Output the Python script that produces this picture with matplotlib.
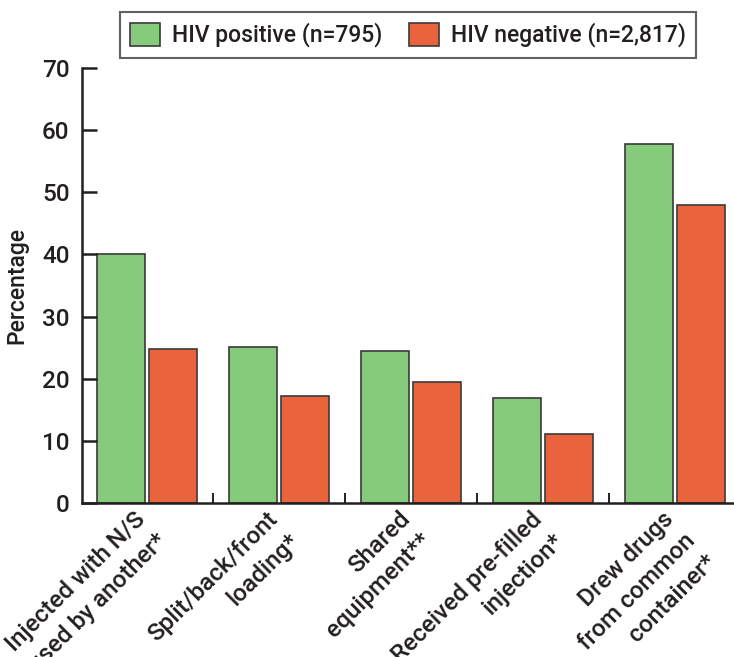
import matplotlib
matplotlib.use("Agg")
import matplotlib.pyplot as plt
import numpy as np

categories = ["Injected with N/S\nused by another*", "Split/back/front\nloading*",
              "Shared\nequipment**", "Received pre-filled\ninjection*",
              "Drew drugs\nfrom common\ncontainer*"]
hiv_pos = [40.0, 25.1, 24.4, 17.0, 57.7]
hiv_neg = [24.8, 17.3, 19.5, 11.2, 48.0]
series_labels = ["HIV positive (n=795)", "HIV negative (n=2,817)"]
yticks = [0, 10, 20, 30, 40, 50, 60, 70]

green = "#86CA7B"
orange = "#E9643D"
edge = "#3a3a3a"
txt = "#231f20"

plt.rcParams['font.family'] = ['Roboto', 'DejaVu Sans']
plt.rcParams['font.weight'] = 'medium'

fig = plt.figure(figsize=(7.34, 6.57), dpi=100)
ax = fig.add_axes([82/734, 1 - 503.3/657, 1 - 82/734, (503.3 - 67.7)/657])

x = np.arange(len(categories))
w = 48/132
off = 26/132
b1 = ax.bar(x - off, hiv_pos, w, color=green, edgecolor=edge, linewidth=1.2, label=series_labels[0])
b2 = ax.bar(x + off, hiv_neg, w, color=orange, edgecolor=edge, linewidth=1.2, label=series_labels[1])

ax.set_xlim(-65/132, (734 - 147)/132)
ax.set_ylim(0, 70)
ax.set_yticks(yticks)
ax.set_yticklabels([str(t) for t in yticks], fontsize=17.5, color=txt, fontweight='medium')
ax.tick_params(axis='y', direction='in', length=11, width=1.8, color=txt, pad=9)

ax.set_xticks(x[:-1] + 0.5, minor=True)
ax.set_xticks(x)
ax.tick_params(axis='x', which='minor', direction='in', length=7, width=1.4, color=txt)
ax.tick_params(axis='x', which='major', length=0, pad=3)
ax.set_xticklabels(categories, rotation=45, ha='right', va='top', rotation_mode='anchor',
                   multialignment='right', fontsize=17.5, color=txt,
                   fontweight='medium')
for lab in ax.get_xticklabels():
    lab.set_linespacing(1.4)
    lab.set_transform(lab.get_transform() + matplotlib.transforms.ScaledTranslation(-13/100, 0, fig.dpi_scale_trans))

for s in ['top', 'right']:
    ax.spines[s].set_visible(False)
for s in ['left', 'bottom']:
    ax.spines[s].set_linewidth(1.8)
    ax.spines[s].set_color(txt)

ax.set_ylabel("Percentage", fontsize=16.5, color=txt, labelpad=10, fontweight='medium')

leg = fig.legend(handles=[b1, b2], labels=series_labels, loc='center', bbox_to_anchor=(408/734, 1 - 35/657),
                 ncol=2, prop={'size': 16.5, 'weight': 'medium'}, frameon=True, fancybox=False, edgecolor=edge,
                 handlelength=1.3, handleheight=1.2, handletextpad=0.5, columnspacing=1.2,
                 borderpad=0.45)
leg.get_frame().set_linewidth(1.5)
for t in leg.get_texts():
    t.set_color(txt)

fig.savefig("out.png", dpi=100)
